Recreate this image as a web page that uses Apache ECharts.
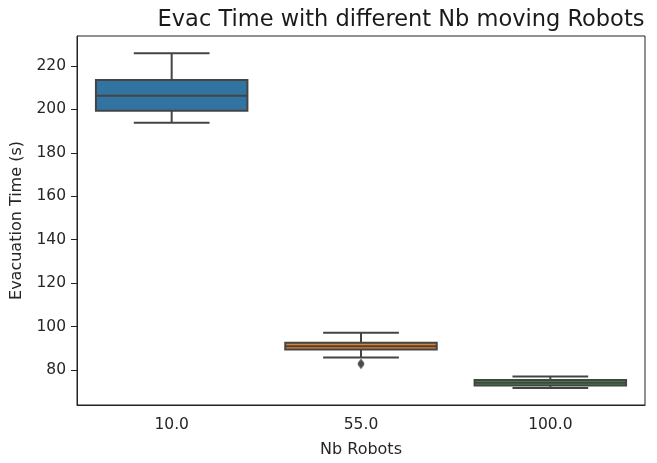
<!DOCTYPE html>
<html>
<head>
<meta charset="utf-8">
<script src="https://cdn.jsdelivr.net/npm/echarts@6/dist/echarts.min.js"></script>
<style>html,body{margin:0;padding:0;background:#fff}#c{width:657px;height:463px}</style>
</head>
<body>
<div id="c"></div>
<script>
const categories = ['10.0', '55.0', '100.0'];
const whiskerLow = [193.9, 85.8, 71.7];
const q1 = [199.4, 89.4, 72.9];
const median = [206.3, 91.0, 74.1];
const q3 = [213.5, 92.6, 75.4];
const whiskerHigh = [225.9, 97.2, 77.0];
const outlierCat = [1, 1];
const outlierVal = [83.2, 82.4];
const yTicks = [80, 100, 120, 140, 160, 180, 200, 220];
const boxColors = ['#3274a1', '#e1812c', '#3a923a'];

const lineColor = '#444444';
const font = 'DejaVu Sans';

const boxData = categories.map((c, i) => [i, whiskerLow[i], q1[i], median[i], q3[i], whiskerHigh[i]]);
const outlierData = outlierCat.map((c, i) => [c, outlierVal[i]]);

const chart = echarts.init(document.getElementById('c'), null, {renderer: 'canvas'});
chart.setOption({
  animation: false,
  backgroundColor: '#fff',
  title: {
    text: 'Evac Time with different Nb moving Robots',
    left: 396, top: 4, textAlign: 'center',
    textStyle: {fontFamily: font, fontSize: 22.5, fontWeight: 'normal', color: '#1a1a1a'}
  },
  grid: {left: 77, right: 12, top: 36, bottom: 58, show: true, borderColor: '#222', borderWidth: 1},
  xAxis: {
    type: 'category', data: categories, boundaryGap: true,
    name: 'Nb Robots', nameLocation: 'middle', nameGap: 37,
    nameTextStyle: {fontFamily: font, fontSize: 16, color: '#262626'},
    axisLine: {lineStyle: {color: '#222', width: 1}},
    axisTick: {alignWithLabel: true, length: 6, lineStyle: {color: '#222'}},
    axisLabel: {fontFamily: font, fontSize: 15.5, color: '#262626', margin: 12},
    splitLine: {show: false}
  },
  yAxis: {
    type: 'value', min: 63.9, max: 233.8,
    name: 'Evacuation Time (s)', nameLocation: 'middle', nameGap: 52,
    nameTextStyle: {fontFamily: font, fontSize: 16, color: '#262626'},
    axisLine: {show: true, lineStyle: {color: '#222', width: 1}},
    axisTick: {show: true, length: 6, lineStyle: {color: '#222'}, customValues: yTicks},
    axisLabel: {fontFamily: font, fontSize: 15.5, color: '#262626', margin: 11, customValues: yTicks},
    splitLine: {show: false}
  },
  series: [
    {
      type: 'custom',
      data: boxData,
      encode: {x: 0, y: [1, 2, 3, 4, 5]},
      renderItem: function (params, api) {
        const idx = api.value(0);
        const band = api.size([1, 0])[0];
        const cx = api.coord([idx, 0])[0];
        const bw = band * 0.8, cw = band * 0.4;
        const yLo = api.coord([idx, api.value(1)])[1];
        const yQ1 = api.coord([idx, api.value(2)])[1];
        const yMed = api.coord([idx, api.value(3)])[1];
        const yQ3 = api.coord([idx, api.value(4)])[1];
        const yHi = api.coord([idx, api.value(5)])[1];
        const ls = {stroke: lineColor, lineWidth: 2};
        return {
          type: 'group',
          children: [
            {type: 'line', shape: {x1: cx, y1: yQ1, x2: cx, y2: yLo}, style: ls},
            {type: 'line', shape: {x1: cx, y1: yQ3, x2: cx, y2: yHi}, style: ls},
            {type: 'line', shape: {x1: cx - cw / 2, y1: yLo, x2: cx + cw / 2, y2: yLo}, style: ls},
            {type: 'line', shape: {x1: cx - cw / 2, y1: yHi, x2: cx + cw / 2, y2: yHi}, style: ls},
            {type: 'rect', shape: {x: cx - bw / 2, y: yQ3, width: bw, height: yQ1 - yQ3},
              style: {fill: boxColors[idx], stroke: lineColor, lineWidth: 2}},
            {type: 'line', shape: {x1: cx - bw / 2, y1: yMed, x2: cx + bw / 2, y2: yMed}, style: ls}
          ]
        };
      }
    },
    {
      type: 'scatter',
      data: outlierData,
      symbol: 'diamond',
      symbolSize: [7, 9],
      itemStyle: {color: lineColor}
    }
  ]
});
</script>
</body>
</html>
